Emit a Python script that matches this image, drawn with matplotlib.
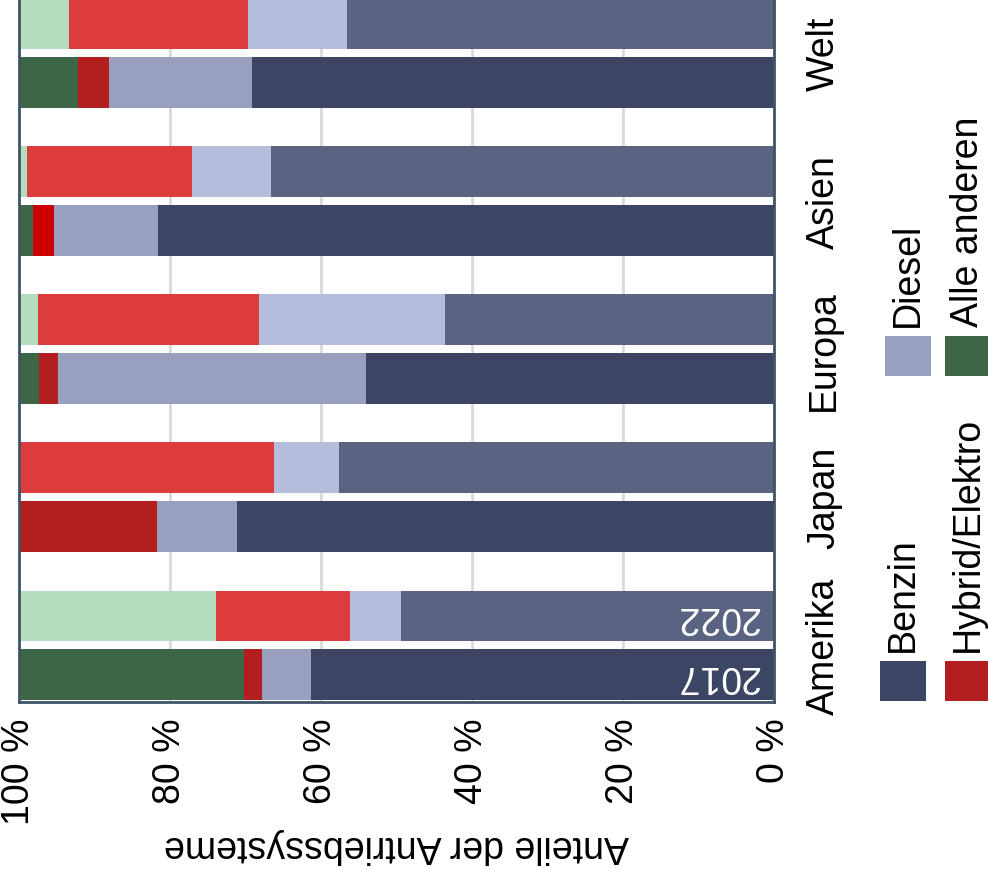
import matplotlib
matplotlib.use("Agg")
import matplotlib.pyplot as plt
from matplotlib.patches import Rectangle
import numpy as np

plt.rcParams["font.family"] = ["Liberation Sans", "DejaVu Sans"]

# data (shares in %)
regions = ["Amerika", "Japan", "Europa", "Asien", "Welt"]
series = ["Benzin", "Diesel", "Hybrid/Elektro", "Alle anderen"]

benzin_2017 = [61.3, 71.1, 54.0, 81.6, 69.1]
diesel_2017 = [6.5, 10.6, 40.8, 13.8, 19.0]
hybrid_2017 = [2.4, 18.3, 2.6, 2.7, 4.1]
andere_2017 = [29.8, 0.0, 2.6, 1.9, 7.8]

benzin_2022 = [49.4, 57.6, 43.6, 66.6, 56.6]
diesel_2022 = [6.8, 8.6, 24.6, 10.5, 13.1]
hybrid_2022 = [17.7, 33.8, 29.3, 21.8, 23.7]
andere_2022 = [26.1, 0.0, 2.5, 1.1, 6.6]

years = ["2017", "2022"]

# colours
colors_2017 = ["#3c4564", "#97a0bf", "#b31e1e", "#3d6647"]
colors_2022 = ["#5a6382", "#b4bedc", "#dc3c3c", "#b4dcbe"]
hybrid_2017_colors = ["#b31e1e", "#b31e1e", "#b31e1e", "#cc0000", "#b31e1e"]

W, H = 988, 870
fig = plt.figure(figsize=(W / 100, H / 100), dpi=100)
ax = fig.add_axes([19 / W, 1 - 703 / H, (774 - 19) / W, 703 / H])

y = np.arange(len(regions))
bar_h = 0.344
off = 0.199

data_2017 = [benzin_2017, diesel_2017, hybrid_2017, andere_2017]
data_2022 = [benzin_2022, diesel_2022, hybrid_2022, andere_2022]

for yy, data, cols in [(y - off, data_2017, colors_2017), (y + off, data_2022, colors_2022)]:
    left = np.zeros(len(regions))
    for k, vals in enumerate(data):
        c = cols[k]
        if data is data_2017 and k == 2:
            c = hybrid_2017_colors
        ax.barh(yy, vals, left=left, height=bar_h, color=c, linewidth=0, zorder=2)
        left += np.array(vals)

# year labels inside the Amerika bars
for yy, label in [(y[0] - off, years[0]), (y[0] + off, years[1])]:
    ax.text(2.0, yy, label, rotation=180, color="white", fontsize=27,
            ha="right", va="center", zorder=3)

ax.set_xlim(100, 0)
ax.set_ylim(-0.3815, 4.364)

ax.set_xticks([100, 80, 60, 40, 20, 0])
ax.set_xticklabels([f"{v} %" for v in [100, 80, 60, 40, 20, 0]], rotation=90, fontsize=27)
ax.xaxis.grid(True, color="#d9d9d9", linewidth=2, zorder=0)
ax.set_axisbelow(True)

ax.yaxis.tick_right()
ax.set_yticks(y)
ax.set_yticklabels(regions, rotation=90, fontsize=27, va="center")
ax.tick_params(axis="both", length=0)
ax.tick_params(axis="y", pad=23)
ax.tick_params(axis="x", pad=11)

ax.set_xlabel("Anteile der Antriebssysteme", rotation=180, fontsize=27, labelpad=2)

for s in ["left", "right", "bottom"]:
    ax.spines[s].set_color("#3f5468")
    ax.spines[s].set_linewidth(2)
ax.spines["top"].set_visible(False)

# manual rotated legend
legend_items = [
    (series[0], colors_2017[0], 880, 662),
    (series[2], colors_2017[2], 945, 662),
    (series[1], colors_2017[1], 885, 337),
    (series[3], colors_2017[3], 945, 337),
]
for name, col, px, py in legend_items:
    fig.add_artist(Rectangle((px / W, 1 - (py + 40) / H), 46 / W, 40 / H,
                             transform=fig.transFigure, color=col, linewidth=0))
    fig.text((px + 23) / W, 1 - (py - 10) / H, name, rotation=90, fontsize=27,
             rotation_mode="anchor", ha="left", va="center")

fig.savefig("out.png", dpi=100)
